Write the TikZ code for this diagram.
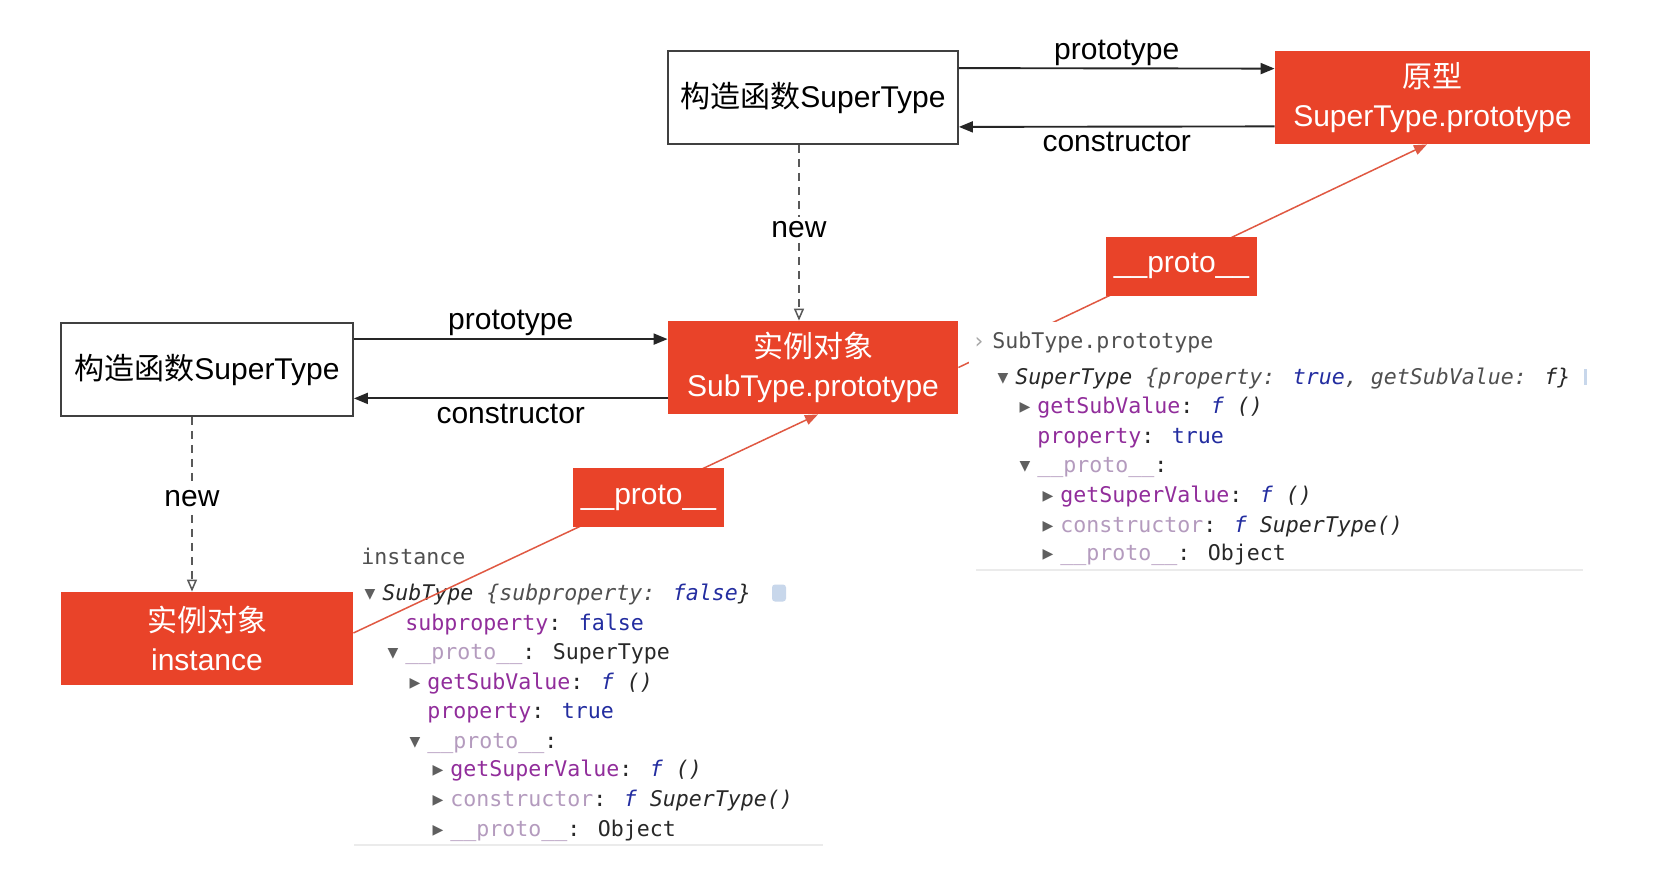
\documentclass[tikz,border=0pt]{standalone}
\usepackage{fontspec}
\setmainfont{Liberation Sans}
\newfontfamily\cjk{Noto Sans CJK SC}
\newfontfamily\mono{DejaVu Sans Mono}
\newfontfamily\symf{DejaVu Sans}
\usetikzlibrary{arrows.meta,calc}
\definecolor{redbox}{RGB}{233,67,41}
\definecolor{redline}{RGB}{224,88,66}
\definecolor{ckey}{RGB}{145,45,155}
\definecolor{cval}{RGB}{35,45,160}
\definecolor{cdim}{RGB}{180,155,190}
\definecolor{ctxt}{RGB}{40,40,40}
\definecolor{cgray}{RGB}{80,80,80}
\definecolor{ctri}{RGB}{95,95,95}
\definecolor{cicon}{RGB}{200,215,235}
\newcommand{\dn}{\llap{{\symf\fontsize{7pt}{7pt}\selectfont\color{ctri}\raisebox{0.8pt}{▼}}\hspace{3.5pt}}}
\newcommand{\rt}{\llap{{\symf\fontsize{7pt}{7pt}\selectfont\color{ctri}\raisebox{0.8pt}{▶}}\hspace{3.5pt}}}
\newcommand{\K}[1]{\textcolor{ckey}{#1}}
\newcommand{\V}[1]{\textcolor{cval}{#1}}
\newcommand{\Dm}[1]{\textcolor{cdim}{#1}}
\newcommand{\Gr}[1]{\textcolor{cgray}{#1}}
\newcommand{\lblfont}{\fontsize{15pt}{18pt}\selectfont}
\newcommand{\boxfont}{\fontsize{15pt}{19.5pt}\selectfont}
\newcommand{\confont}{\mono\fontsize{10.8pt}{13pt}\selectfont}
\begin{document}
\begin{tikzpicture}[x=0.5pt,y=-0.5pt,
  whitebox/.style={draw=black!75, line width=0.9pt, fill=white, minimum width=145pt, minimum height=46.5pt, inner sep=0pt, font=\boxfont, align=center},
  redbx/.style={fill=redbox, text=white, minimum width=145pt, minimum height=46.5pt, inner sep=0pt, font=\boxfont, align=center},
  protobox/.style={fill=redbox, text=white, minimum width=75.5pt, minimum height=29.5pt, inner sep=0pt, font=\lblfont},
  arr/.style={draw=black!85, line width=0.95pt, -{Triangle[length=7pt,width=5.5pt]}},
  newarr/.style={draw=black!65, line width=0.75pt, dash pattern=on 4pt off 3pt, -{Triangle[open,length=6pt,width=5pt]}},
  protoline/.style={draw=redline, line width=0.75pt, -{Triangle[length=6.5pt,width=5pt]}},
  lbl/.style={font=\lblfont, inner sep=1pt},
  con/.style={font=\confont, text=ctxt, anchor=base west, inner sep=0pt}]
\useasboundingbox (0,0) rectangle (1655,873);
\fill[white] (0,0) rectangle (1655,873);

% boxes
\node[whitebox] (A) at (813,97.5) {{\cjk 构造函数}SuperType};
\node[redbx, minimum width=157.5pt] (B) at (1432.5,97.5) {{\cjk 原型}\\SuperType.prototype};
\node[redbx] (C) at (813,367.5) {{\cjk 实例对象}\\SubType.prototype};
\node[whitebox, minimum width=146pt] (D) at (207,369.5) {{\cjk 构造函数}SuperType};
\node[redbx, minimum width=146pt] (E) at (207,638.5) {{\cjk 实例对象}\\instance};

% prototype / constructor arrows
\draw[arr] ($(A.north east)+(0,18)$) -- node[lbl, above=0pt] (p1) {prototype} ($(B.north west)+(0,18)$);
\draw[arr] ($(B.south west)+(0,-18)$) -- node[lbl, below=1.5pt] (c1) {constructor} ($(A.south east)+(0,-18)$);
\draw[arr] ($(D.north east)+(0,17)$) -- node[lbl, above=0pt] (p2) {prototype} ($(D.north east -| C.west)+(0,17)$);
\draw[arr] ($(C.south west)+(0,-16)$) -- node[lbl, below=1.5pt] (c2) {constructor} ($(C.south west -| D.east)+(0,-16)$);

% new arrows
\draw[newarr] ($(A.south)+(-14,0)$) -- node[lbl, fill=white, inner sep=2pt, pos=0.48] (n1) {new} ($(A.south |- C.north)+(-14,0)$);
\draw[newarr] ($(D.south)+(-15,0)$) -- node[lbl, fill=white, inner sep=2pt, pos=0.47] (n2) {new} ($(D.south |- E.north)+(-15,0)$);

% right proto line (partly hidden behind console panel)
\draw[protoline] (C.east) -- ($(B.south)+(-5.5,0)$);
\fill[white] (969,322) rectangle (1600,570);
\draw[black!8, line width=1pt] (976,570) -- (1583,570);

% right console
\node[con, text=black!35] (r0) at (972,348) {›};
\node[con] (r1) at (992,348) {\Gr{SubType.prototype}};
\node[con] (r2) at (1015,384) {\dn\textit{SuperType \Gr{\{property: }\V{true}\Gr{, getSubValue: }f\}}};
\node[con] (r3) at (1037,413) {\rt\K{getSubValue}: \textit{\V{f} ()}};
\node[con] (r4) at (1037,443) {\K{property}: \V{true}};
\node[con] (r5) at (1037,472) {\dn\Dm{\_\_proto\_\_}:};
\node[con] (r6) at (1060,502) {\rt\K{getSuperValue}: \textit{\V{f} ()}};
\node[con] (r7) at (1060,532) {\rt\Dm{constructor}: \textit{\V{f} SuperType()}};
\node[con] (r8) at (1060,560) {\rt\Dm{\_\_proto\_\_}: Object};
\fill[cicon] (1584,369) rectangle (1587,385);

% left console
\node[con] (l1) at (361,564) {\Gr{instance}};
\node[con] (l2) at (382,600) {\dn\textit{SubType \Gr{\{subproperty: }\V{false}\}}};
\node[fill=cicon, rounded corners=1.5pt, minimum width=7pt, minimum height=8.5pt, inner sep=0pt] (ic) at (779,593) {};
\node[con] (l3) at (405,630) {\K{subproperty}: \V{false}};
\node[con] (l4) at (405,659) {\dn\Dm{\_\_proto\_\_}: SuperType};
\node[con] (l5) at (427,689) {\rt\K{getSubValue}: \textit{\V{f} ()}};
\node[con] (l6) at (427,718) {\K{property}: \V{true}};
\node[con] (l7) at (427,748) {\dn\Dm{\_\_proto\_\_}:};
\node[con] (l8) at (450,776) {\rt\K{getSuperValue}: \textit{\V{f} ()}};
\node[con] (l9) at (450,806) {\rt\Dm{constructor}: \textit{\V{f} SuperType()}};
\node[con] (l10) at (450,836) {\rt\Dm{\_\_proto\_\_}: Object};
\draw[black!8, line width=1pt] (354,845) -- (823,845);

% left proto line
\draw[protoline] ($(E.east)+(0,-5.5)$) -- ($(C.south)+(5,0)$);

% proto labels
\node[protobox] (F) at (648.5,497.5) {\_\_proto\_\_};
\node[protobox] (G) at (1181.5,266) {\_\_proto\_\_};
\end{tikzpicture}
\end{document}
